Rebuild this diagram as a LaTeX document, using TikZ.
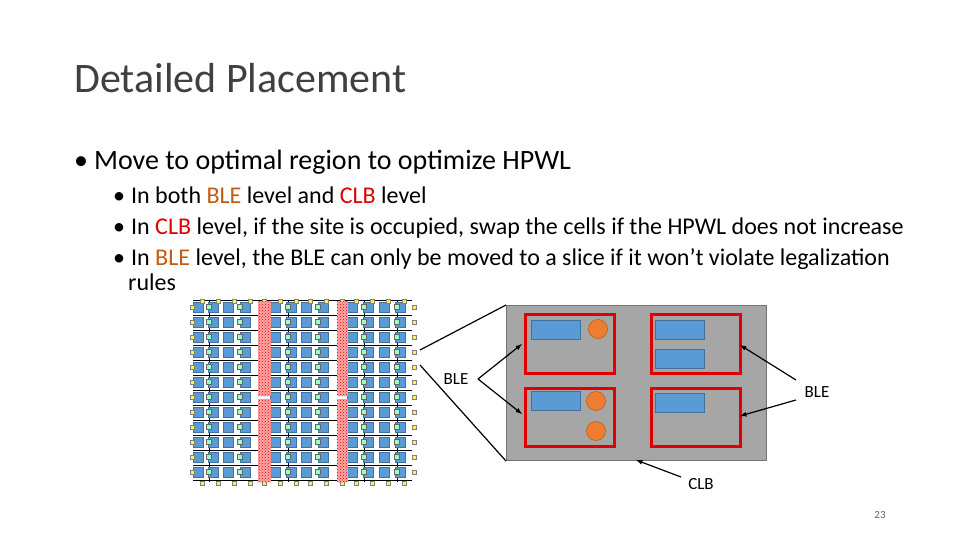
\documentclass[tikz,border=0pt]{standalone}
\usepackage{fontspec}
\setmainfont{Carlito}
\usetikzlibrary{patterns}
\definecolor{bleor}{HTML}{C55A11}
\definecolor{clbred}{HTML}{E00000}
\definecolor{cblue}{HTML}{5B9BD5}
\definecolor{cbluedk}{HTML}{41719C}
\definecolor{cgray}{HTML}{A6A6A6}
\definecolor{corange}{HTML}{ED7D31}
\begin{document}
\begin{tikzpicture}[x=1pt,y=-1pt,
  title/.style={anchor=base west,font=\fontsize{42}{46}\selectfont,text=black!75,inner sep=0},
  lvl1/.style={anchor=base west,font=\fontsize{28}{32}\selectfont,inner sep=0},
  lvl2/.style={anchor=base west,font=\fontsize{24}{28}\selectfont,inner sep=0},
  lbl/.style={font=\fontsize{17}{19}\selectfont,inner sep=1pt},
  bsq/.style={fill=cblue,draw=cbluedk,line width=0.5pt},
  gsq/.style={fill=green!60!cyan!40,draw=black!60,line width=0.4pt},
  ysq/.style={fill=yellow!70,draw=black!50,line width=0.4pt},
  blerect/.style={draw=clbred,line width=3pt},
  arr/.style={-latex,line width=1.2pt}]
\useasboundingbox (0,0) rectangle (960,540);
\node[title] (t) at (74,93) {Detailed Placement};
\node[lvl1] (b1) at (74,170) {•\hspace{6pt}Move to optimal region to optimize HPWL};
\node[lvl2] (b2) at (113,203) {•\hspace{6pt}In both \textcolor{bleor}{BLE} level and \textcolor{clbred}{CLB} level};
\node[lvl2] (b3) at (113,234) {•\hspace{6pt}In \textcolor{clbred}{CLB} level, if the site is occupied, swap the cells if the HPWL does not increase};
\node[lvl2] (b4) at (113,265) {•\hspace{6pt}In \textcolor{bleor}{BLE} level, the BLE can only be moved to a slice if it won’t violate legalization};
\node[lvl2] (b5) at (128,290) {rules};
% grid
\foreach \i in {0,...,12}{\draw[line width=0.6pt] (193,{300+15*\i}) -- (412,{300+15*\i});}
\foreach \x in {209,288,364,397}{\draw[line width=0.5pt] (\x,300) -- (\x,482);}
\draw[white,line width=1pt] (193,397) -- (412,397);
\foreach \i in {0,...,11}{
  \foreach \x in {198,213,228,245,275,291,306,323,352,368,384,400}{
    \fill[bsq] (\x-5,{307+15*\i-5}) rectangle ++(10,10);}
  \foreach \x in {209,240,288,318,364,397}{
    \filldraw[gsq] (\x-2.5,{307+15*\i-2.5}) rectangle ++(5,5);}
  \filldraw[ysq] (190,{307+15*\i-2}) rectangle ++(4,4);
  \filldraw[ysq] (412,{307+15*\i-2}) rectangle ++(4,4);
}
\foreach \x in {202,218,234,250,264,280,296,310,326,342,356,372,388,404}{
  \filldraw[ysq] (\x-2,299) rectangle ++(4,4);
  \filldraw[ysq] (\x-2,481) rectangle ++(4,4);}
\foreach \x/\w in {258/13,337/11}{
  \fill[red!35] (\x,301) rectangle ++(\w,95);
  \fill[pattern=crosshatch dots,pattern color=red!90!black] (\x,301) rectangle ++(\w,95);
  \fill[red!35] (\x,399) rectangle ++(\w,83);
  \fill[pattern=crosshatch dots,pattern color=red!90!black] (\x,399) rectangle ++(\w,83);}
% CLB
\node[draw=black!55,fill=cgray,line width=1pt,minimum width=260pt,minimum height=155pt,inner sep=0,anchor=north west] (clb) at (506,305) {};
\node[blerect,minimum width=89pt,minimum height=59pt,anchor=north west] (e1) at (524,313) {};
\node[blerect,minimum width=89pt,minimum height=59pt,anchor=north west] (e2) at (650,313) {};
\node[blerect,minimum width=89pt,minimum height=58pt,anchor=north west] (e3) at (524,387) {};
\node[blerect,minimum width=89pt,minimum height=58pt,anchor=north west] (e4) at (650,387) {};
\foreach \n/\x/\y in {r1/531/320,r2/655/320,r3/655/349,r4/531/391,r5/655/393}{
  \node[bsq,minimum width=49pt,minimum height=19pt,inner sep=0,anchor=north west] (\n) at (\x,\y) {};}
\foreach \n/\x/\y in {c1/598/329,c2/596/401,c3/596/431}{
  \node[circle,fill=corange,draw=bleor,line width=0.6pt,minimum size=19pt,inner sep=0] (\n) at (\x,\y) {};}
\node[lbl] (lb1) at (456,379) {BLE};
\node[lbl] (lb2) at (817,392) {BLE};
\node[lbl] (lb3) at (701,484) {CLB};
\coordinate (s1) at (478,379);
\coordinate (s2) at (796,380);
\coordinate (s3) at (796,400);
\coordinate (s4) at (681,477);
\draw[arr] (s1) -- (522,344);
\draw[arr] (s1) -- (522,414);
\draw[arr] (s2) -- (740,345);
\draw[arr] (s3) -- (740,416);
\draw[arr] (s4) -- (636,460);
\coordinate (g1) at (420,350);
\coordinate (g2) at (420,365);
\draw[line width=1.2pt] (g1) -- (clb.north west);
\draw[line width=1.2pt] (g2) -- (clb.south west);
\node[font=\fontsize{11}{12}\selectfont,text=black!60] (pg) at (880,515) {23};
\end{tikzpicture}
\end{document}
